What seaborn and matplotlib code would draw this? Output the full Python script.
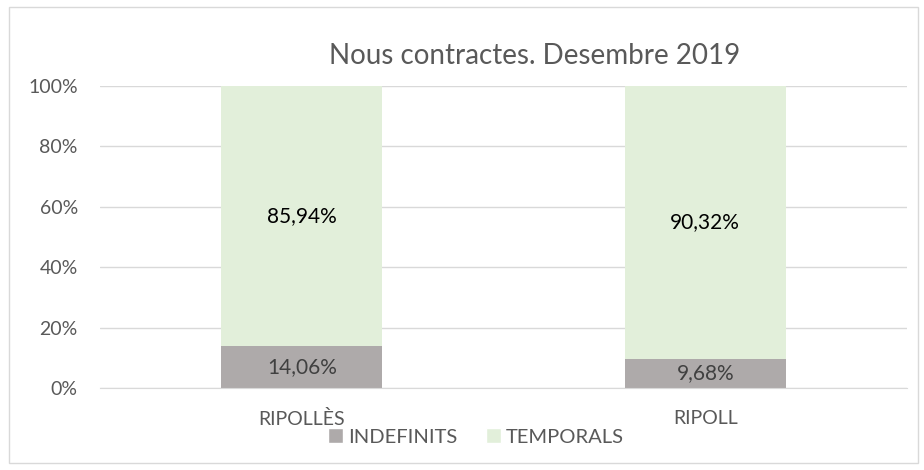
import matplotlib
matplotlib.use("Agg")
import matplotlib.pyplot as plt
import seaborn as sns
import pandas as pd
from matplotlib.patches import Patch, Rectangle

# Data
categories = ["RIPOLLÈS", "RIPOLL"]
indefinits = [14.06, 9.68]
temporals = [85.94, 90.32]
series_names = ["INDEFINITS", "TEMPORALS"]

grey = "#aeaaaa"
green = "#e2efda"
text_grey = "#595959"

sns.set_style("white")
plt.rcParams["font.family"] = ["Lato", "DejaVu Sans"]

df = pd.DataFrame({"cat": categories, "indef": indefinits, "temp": temporals})
df["total"] = df["indef"] + df["temp"]

fig = plt.figure(figsize=(9.24, 4.70), dpi=100)
ax = fig.add_axes([100 / 924, 1 - 388 / 470, 807 / 924, 302 / 470])

# stacked bars: total first, then the bottom part on top of it
sns.barplot(data=df, x="cat", y="total", color=green, saturation=1, width=0.4, ax=ax)
sns.barplot(data=df, x="cat", y="indef", color=grey, saturation=1, width=0.4, ax=ax)
for p in ax.patches:
    p.set_edgecolor("none")

for i, (a, b) in enumerate(zip(indefinits, temporals)):
    ax.text(i, a / 2, f"{a:.2f}%".replace(".", ","), ha="center", va="center",
            fontsize=15, color="#404040")
    ax.text(i, a + b / 2, f"{b:.2f}%".replace(".", ","), ha="center", va="center",
            fontsize=15, color="black")

ax.set_ylim(0, 100)
ax.set_xlim(-0.5, 1.5)
ax.set_yticks(range(0, 101, 20))
ax.set_yticklabels([f"{v}%" for v in range(0, 101, 20)])
ax.yaxis.grid(True, color="#d9d9d9", linewidth=1)
ax.set_axisbelow(True)
for s in ["top", "right", "left"]:
    ax.spines[s].set_visible(False)
ax.spines["bottom"].set_color("#d9d9d9")
ax.tick_params(axis="both", length=0, labelsize=14, colors=text_grey)
ax.tick_params(axis="y", pad=16)
ax.tick_params(axis="x", pad=16)
ax.set_xlabel("")
ax.set_ylabel("")

fig.text(535 / 924, 1 - 56 / 470, "Nous contractes. Desembre 2019", ha="center",
         va="center", fontsize=20, color=text_grey)

handles = [Patch(facecolor=grey, label=series_names[0]),
           Patch(facecolor=green, label=series_names[1])]
fig.legend(handles=handles, loc="center", bbox_to_anchor=(476 / 924, 1 - 437 / 470),
           ncol=2, frameon=False, fontsize=14.5, handlelength=0.75, handleheight=0.75,
           handletextpad=0.25, columnspacing=1.4, labelcolor=text_grey)

# outer chart border
fig.patches.append(Rectangle((9 / 924, 7 / 470), 909 / 924, 456 / 470,
                             transform=fig.transFigure, fill=False,
                             edgecolor="#d9d9d9", linewidth=1))

fig.savefig("out.png", dpi=100)
